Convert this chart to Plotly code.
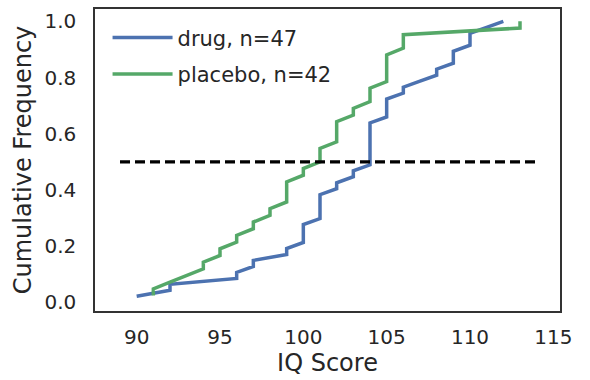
import numpy as np
import plotly.graph_objects as go

# IQ scores (sorted)
drug_scores = ([90] + [92]*2 + [96]*2 + [97]*2 + [99]*2 + [100]*4 + [101]*5 +
               [102]*2 + [103]*2 + [104]*8 + [105]*4 + [106]*2 + [107] +
               [108]*2 + [109]*3 + [110]*3 + [111] + [112])
placebo_scores = ([91]*2 + [92] + [93] + [94]*2 + [95]*2 + [96]*2 + [97]*2 +
                  [98]*2 + [99]*4 + [100]*2 + [101]*3 + [102]*4 + [103]*2 +
                  [104]*3 + [105]*5 + [106]*3 + [113]*2)

median_line_x = [89, 114]
median_line_y = [0.5, 0.5]

x_ticks = [90, 95, 100, 105, 110, 115]
y_ticks = [0.0, 0.2, 0.4, 0.6, 0.8, 1.0]

def ecdf(vals):
    x = np.sort(np.asarray(vals, dtype=float))
    y = np.arange(1, len(x) + 1) / len(x)
    return x, y

BLUE = "#4C72B0"
GREEN = "#55A868"
TXT = "#262626"
FONT = "DejaVu Sans"

dx, dy = ecdf(drug_scores)
px_, py_ = ecdf(placebo_scores)

fig = go.Figure()
fig.add_trace(go.Scatter(x=dx, y=dy, mode="lines", name=f"drug, n={len(drug_scores)}",
                         line=dict(color=BLUE, width=3.5), legendgroup="a"))
fig.add_trace(go.Scatter(x=px_, y=py_, mode="lines", name=f"placebo, n={len(placebo_scores)}",
                         line=dict(color=GREEN, width=3.5), legendgroup="b"))
fig.add_trace(go.Scatter(x=median_line_x, y=median_line_y, mode="lines", showlegend=False,
                         line=dict(color="black", width=3.2, dash="10px,5px")))

fig.update_layout(
    width=590, height=380,
    margin=dict(l=95, r=30, t=9, b=69),
    paper_bgcolor="white", plot_bgcolor="white",
    font=dict(family=FONT, color=TXT, size=20),
    legend=dict(x=0.027, y=0.972, xanchor="left", yanchor="top",
                bgcolor="rgba(0,0,0,0)", font=dict(size=21, color=TXT),
                tracegroupgap=6, itemwidth=60),
    xaxis=dict(range=[87.5, 115.4], tickvals=x_ticks, showgrid=False, zeroline=False,
               showline=True, mirror=True, linecolor="#333333", linewidth=1.5,
               ticks="outside", ticklen=7, tickcolor="rgba(0,0,0,0)",
               tickfont=dict(size=20, color=TXT), automargin=False,
               title=dict(text="IQ Score", font=dict(size=24, color=TXT), standoff=6)),
    yaxis=dict(range=[-0.031, 1.044], tickvals=y_ticks, tickformat=".1f",
               showgrid=False, zeroline=False,
               showline=True, mirror=True, linecolor="#333333", linewidth=1.5,
               ticks="outside", ticklen=13, tickcolor="rgba(0,0,0,0)",
               tickfont=dict(size=20, color=TXT), automargin=False,
               title=dict(text="Cumulative Frequency", font=dict(size=24, color=TXT), standoff=6)),
)

fig.write_html("out.html", config={"displayModeBar": False},
               post_script="document.body.style.margin='0';document.body.style.overflow='hidden';")
